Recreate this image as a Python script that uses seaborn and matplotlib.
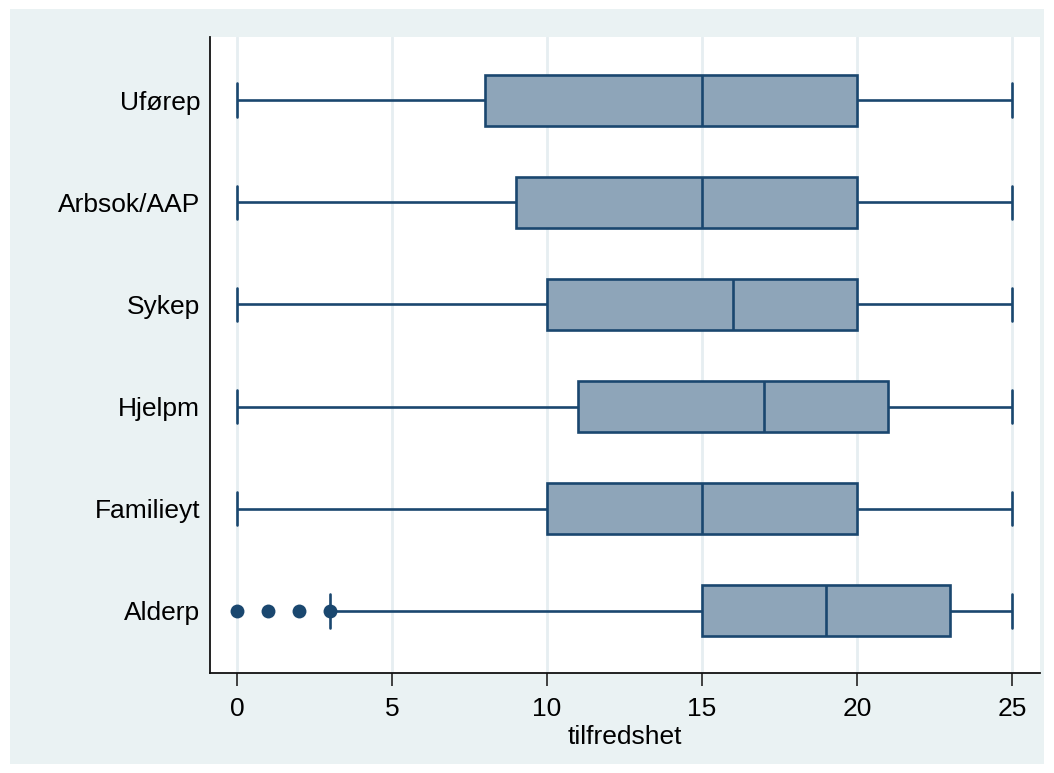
import matplotlib
matplotlib.use("Agg")
import matplotlib.pyplot as plt
from matplotlib.patches import Rectangle
import seaborn as sns
import pandas as pd

# Satisfaction scores (0-25) summarised per benefit group
groups = ["Uførep", "Arbsok/AAP", "Sykep", "Hjelpm", "Familieyt", "Alderp"]
uforep = [0, 8, 15, 20, 25]
arbsok = [0, 9, 15, 20, 25]
sykep = [0, 10, 16, 20, 25]
hjelpm = [0, 11, 17, 21, 25]
familieyt = [0, 10, 15, 20, 25]
alderp = [0, 1, 2, 3, 15, 16, 17, 18, 19, 20, 21, 22, 23, 24, 25, 25, 25]
# values marked as outside values for the pension group
alderp_outside = [0, 1, 2, 3]
x_ticks = [0, 5, 10, 15, 20, 25]

series = [uforep, arbsok, sykep, hjelpm, familieyt, alderp]
df = pd.DataFrame(
    [(g, v) for g, vals in zip(groups, series) for v in vals],
    columns=["gruppe", "tilfredshet"],
)
df_out = pd.DataFrame({"gruppe": ["Alderp"] * len(alderp_outside),
                       "tilfredshet": alderp_outside})

NAVY = "#1a476f"
FILL = "#8ea5b9"
BG = "#eaf2f3"

sns.set_style("white")
plt.rcParams["font.family"] = ["Liberation Sans", "DejaVu Sans"]
plt.rcParams["text.color"] = "black"
plt.rcParams["axes.labelcolor"] = "black"
plt.rcParams["xtick.color"] = "black"
plt.rcParams["ytick.color"] = "black"

fig = plt.figure(figsize=(10.54, 7.73), dpi=100, facecolor="white")
fig.patches.append(Rectangle((10 / 1054, 9 / 773), 1034 / 1054, 755 / 773,
                             transform=fig.transFigure, facecolor=BG,
                             edgecolor="none", zorder=-10))
ax = fig.add_axes([210 / 1054, 1 - 673 / 773, 830 / 1054, 636 / 773])
ax.set_facecolor("white")

for t in x_ticks:
    ax.axvline(t, color="#e6eef1", lw=2, zorder=0)

sns.boxplot(
    data=df, x="tilfredshet", y="gruppe", order=groups, orient="h",
    color=FILL, saturation=1, width=0.5, linecolor=NAVY, linewidth=1.9,
    whis=1.5, capwidths=0.33, showfliers=False, ax=ax,
)
sns.stripplot(
    data=df_out, x="tilfredshet", y="gruppe", order=groups, orient="h",
    jitter=False, color=NAVY, size=10, linewidth=0, zorder=5, ax=ax,
)

ax.set_xlim(-27 / 31, 25 + 28 / 31)
ax.set_ylim(5.61, -0.62)
ax.set_xticks(x_ticks)
ax.set_xticklabels([str(t) for t in x_ticks])
ax.set_ylabel("")
ax.set_xlabel("tilfredshet", fontsize=19, labelpad=3)
ax.tick_params(axis="x", length=9, width=1.3, color="#333333", labelsize=19,
               pad=8, bottom=True, labelcolor="black")
ax.tick_params(axis="y", length=0, labelsize=19, pad=7, labelcolor="black")
for side in ["top", "right"]:
    ax.spines[side].set_visible(False)
for side in ["left", "bottom"]:
    ax.spines[side].set_color("#111111")
    ax.spines[side].set_linewidth(1.3)

fig.savefig("out.png", dpi=100, facecolor="white")
